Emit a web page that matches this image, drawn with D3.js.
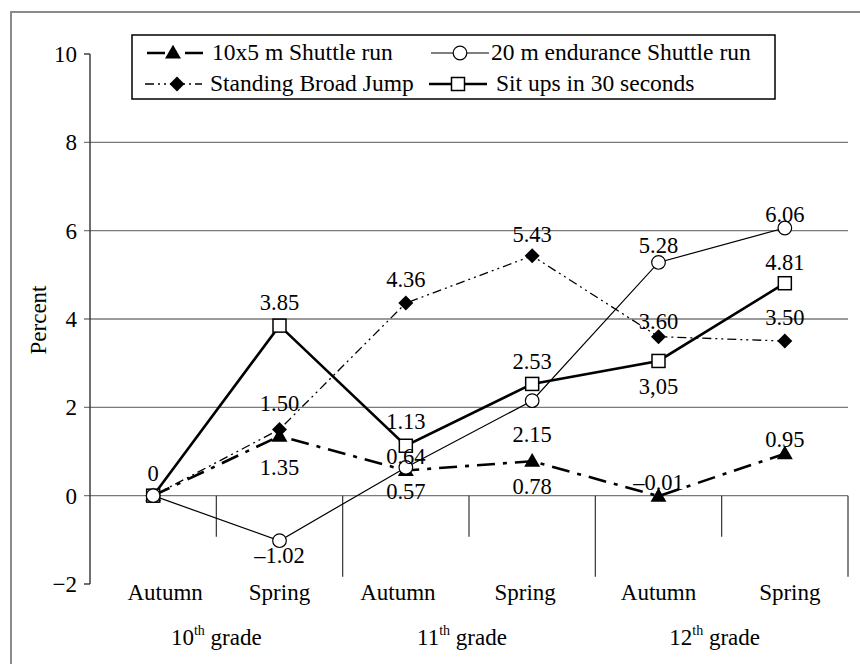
<!DOCTYPE html>
<html><head><meta charset="utf-8">
<script src="https://cdn.jsdelivr.net/npm/d3@7"></script>
<style>body{margin:0;background:#fff}svg{display:block}text{font-family:"Liberation Serif","Times New Roman",serif;fill:#000}</style>
</head><body><svg id="c" width="860" height="664"></svg>
<script>
const seasons = ["Autumn","Spring","Autumn","Spring","Autumn","Spring"];
const grades = ["10","11","12"];
const yTicks = [-2,0,2,4,6,8,10];
const shuttleRun = [0, 1.35, 0.57, 0.78, -0.01, 0.95];
const enduranceRun = [0, -1.02, 0.64, 2.15, 5.28, 6.06];
const broadJump = [0, 1.50, 4.36, 5.43, 3.60, 3.50];
const sitUps = [0, 3.85, 1.13, 2.53, 3.05, 4.81];
const shuttleLabels = [null, "1.35", "0.57", "0.78", "\u20130.01", "0.95"];
const enduranceLabels = [null, "\u20131.02", "0.64", "2.15", "5.28", "6.06"];
const broadLabels = [null, "1.50", "4.36", "5.43", "3.60", "3.50"];
const sitLabels = ["0", "3.85", "1.13", "2.53", "3,05", "4.81"];
// label offsets (style): vertical offset of label centre from the point
const shuttleDy = [0, 31, 21, 25, -14, -15];
const enduranceDy = [0, 14, -11, 33, -17, -14];
const broadDy = [0, -26, -24, -22, -16, -24];
const sitDy = [-23, -24, -25, -23, 25, -21];
// category label horizontal nudges (style)
const seasonDx = [12, 0, -8, -7, 0, 5];
const gradeDx = [0, -7, -7];

const svg = d3.select("#c");
const x = d3.scaleBand().domain(d3.range(seasons.length)).range([90, 848]);
const y = d3.scaleLinear().domain([-2, 10]).range([584, 54]);
const cx = i => x(i) + x.bandwidth()/2;

// outer frame
svg.append("path").attr("d","M11,664V12H860").attr("fill","none").attr("stroke","#8a8a8a").attr("stroke-width",2);

// gridlines & y ticks
yTicks.forEach(v => {
  const isGrid = v >= 0 && v <= 8;
  svg.append("line").attr("x1",84).attr("x2", isGrid ? 848 : 90)
    .attr("y1",y(v)).attr("y2",y(v))
    .attr("stroke", isGrid ? "#7a7a7a" : "#333").attr("stroke-width",1.4);
  svg.append("text").attr("x",77).attr("y",y(v)+8).attr("text-anchor","end")
    .attr("font-size",23).text(v < 0 ? "\u2212" + Math.abs(v) : v);
});
// y axis
svg.append("line").attr("x1",90).attr("x2",90).attr("y1",y(10)).attr("y2",y(-2)).attr("stroke","#333").attr("stroke-width",1.4);
svg.append("text").attr("transform","translate(46,320) rotate(-90)").attr("text-anchor","middle").attr("font-size",23).text("Percent");

// x ticks
for (let i = 1; i <= seasons.length; i++) {
  const xx = x.range()[0] + i*x.bandwidth();
  const long = i % 2 === 0;
  svg.append("line").attr("x1",xx).attr("x2",xx).attr("y1",y(0)).attr("y2",y(0) + (long ? 81 : 41))
    .attr("stroke","#333").attr("stroke-width",1.2);
}
seasons.forEach((s,i) => {
  svg.append("text").attr("x",cx(i)+seasonDx[i]).attr("y",600).attr("text-anchor","middle").attr("font-size",23).text(s);
});
grades.forEach((g,k) => {
  const t = svg.append("text").attr("x",(cx(2*k)+cx(2*k+1))/2+gradeDx[k]).attr("y",645).attr("text-anchor","middle").attr("font-size",23);
  t.append("tspan").text(g);
  t.append("tspan").attr("font-size",14).attr("dy",-10).text("th");
  t.append("tspan").attr("dy",10).text(" grade");
});

// marker drawers
function tri(g, px, py){ g.append("path").attr("d", d3.symbol(d3.symbolTriangle, 110)()).attr("transform",`translate(${px},${py+1})`).attr("fill","#000"); }
function dia(g, px, py){ const r=7.5; g.append("path").attr("d",`M${px},${py-r}L${px+r},${py}L${px},${py+r}L${px-r},${py}Z`).attr("fill","#000"); }
function sq(g, px, py){ g.append("rect").attr("x",px-6.5).attr("y",py-6.5).attr("width",13).attr("height",13).attr("fill","#fff").attr("stroke","#000").attr("stroke-width",1.5); }
function circ(g, px, py){ g.append("circle").attr("cx",px).attr("cy",py).attr("r",6.8).attr("fill","#fff").attr("stroke","#000").attr("stroke-width",1.2); }

const series = [
  {vals: shuttleRun, labels: shuttleLabels, dy: shuttleDy, w: 2.6, dash: "18,8,4,8", mark: tri},
  {vals: broadJump, labels: broadLabels, dy: broadDy, w: 1.3, dash: "9,4,2,4,2,4", mark: dia},
  {vals: enduranceRun, labels: enduranceLabels, dy: enduranceDy, w: 1.2, dash: null, mark: circ},
  {vals: sitUps, labels: sitLabels, dy: sitDy, w: 2.6, dash: null, mark: sq},
];
const line = d3.line().x((d,i) => cx(i)).y(d => y(d));
const gl = svg.append("g");
series.forEach(s => {
  gl.append("path").datum(s.vals).attr("d", line).attr("fill","none").attr("stroke","#000")
    .attr("stroke-width", s.w).attr("stroke-dasharray", s.dash);
});
const gm = svg.append("g");
// draw order: triangles, diamonds, squares, circles
[0,1,3,2].forEach(k => { const s = series[k]; s.vals.forEach((v,i) => s.mark(gm, cx(i), y(v))); });
const gt = svg.append("g");
series.forEach(s => {
  s.vals.forEach((v,i) => {
    if (s.labels[i] == null) return;
    gt.append("text").attr("x",cx(i)).attr("y",y(v)+s.dy[i]+8).attr("text-anchor","middle").attr("font-size",22.5).text(s.labels[i]);
  });
});

// legend
const lg = svg.append("g");
lg.append("rect").attr("x",132).attr("y",35).attr("width",643).attr("height",64).attr("fill","#fff").attr("stroke","#000").attr("stroke-width",1.5);
const legendItems = [
  {name:"10x5 m Shuttle run", s:0, x0:147, x1:205, mx:173, tx:212, row:0},
  {name:"20 m endurance Shuttle run", s:2, x0:431, x1:489, mx:460, tx:491, row:0},
  {name:"Standing Broad Jump", s:1, x0:145, x1:202, mx:177, tx:210, row:1},
  {name:"Sit ups in 30 seconds", s:3, x0:429, x1:487, mx:458, tx:496, row:1},
];
legendItems.forEach(it => {
  const s = series[it.s];
  const ly = it.row === 0 ? 53 : 84;
  lg.append("line").attr("x1",it.x0).attr("x2",it.x1).attr("y1",ly).attr("y2",ly).attr("stroke","#000")
    .attr("stroke-width", s.w).attr("stroke-dasharray", s.dash);
  s.mark(lg, it.mx, ly);
  lg.append("text").attr("x",it.tx).attr("y",ly+7).attr("font-size",23.5).text(it.name);
});
</script></body></html>
